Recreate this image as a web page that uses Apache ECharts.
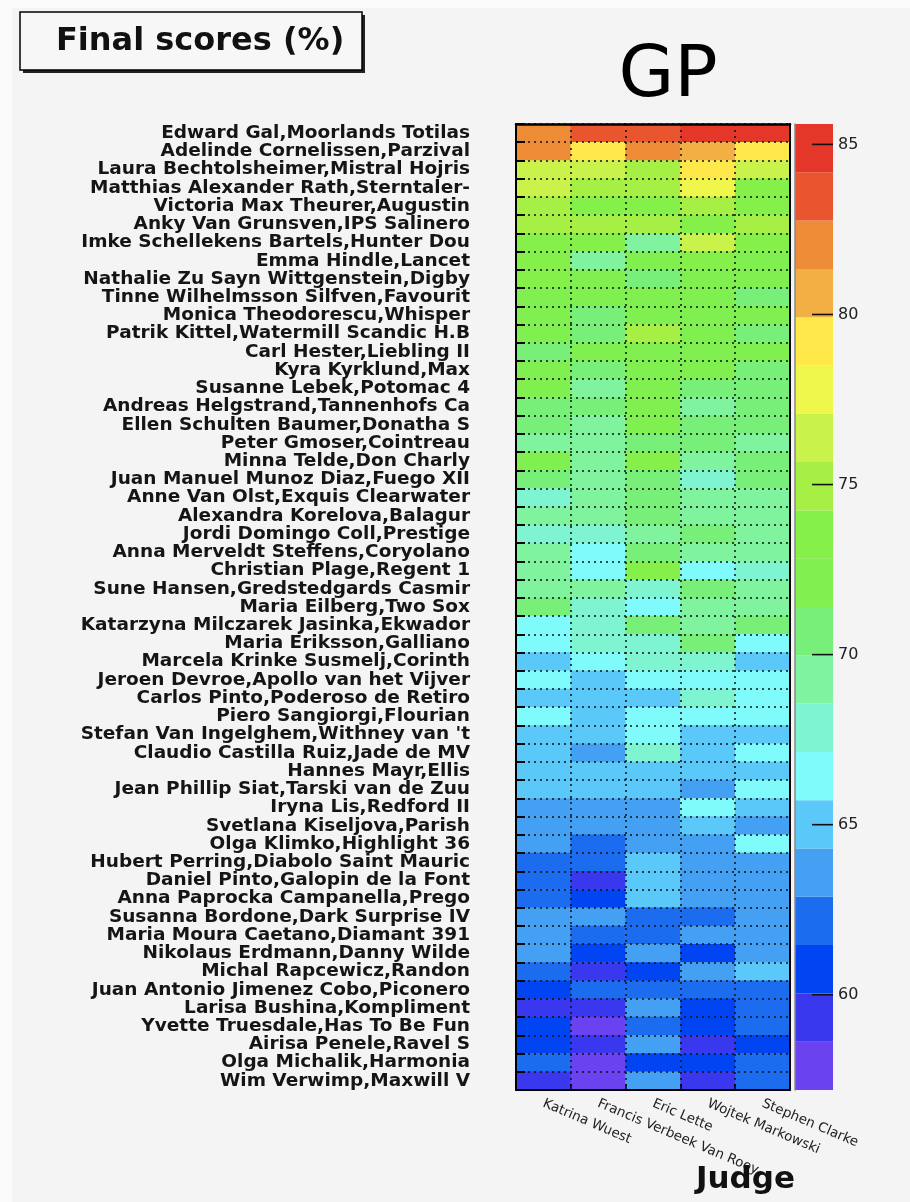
<!DOCTYPE html>
<html><head><meta charset="utf-8">
<script src="https://cdn.jsdelivr.net/npm/echarts@6/dist/echarts.min.js"></script>
<style>html,body{margin:0;padding:0;background:#f4f4f4}#c{width:910px;height:1202px}</style>
</head><body><div id="c"></div>
<script>
// ---------------- data ----------------
const judges = ['Katrina Wuest', 'Francis Verbeek Van Rooy', 'Eric Lette', 'Wojtek Markowski', 'Stephen Clarke'];
const riders = [
  'Edward Gal,Moorlands Totilas', 'Adelinde Cornelissen,Parzival', 'Laura Bechtolsheimer,Mistral Hojris',
  'Matthias Alexander Rath,Sterntaler-', 'Victoria Max Theurer,Augustin', 'Anky Van Grunsven,IPS Salinero',
  'Imke Schellekens Bartels,Hunter Dou', 'Emma Hindle,Lancet', 'Nathalie Zu Sayn Wittgenstein,Digby',
  'Tinne Wilhelmsson Silfven,Favourit', 'Monica Theodorescu,Whisper', 'Patrik Kittel,Watermill Scandic H.B',
  'Carl Hester,Liebling II', 'Kyra Kyrklund,Max', 'Susanne Lebek,Potomac 4', 'Andreas Helgstrand,Tannenhofs Ca',
  'Ellen Schulten Baumer,Donatha S', 'Peter Gmoser,Cointreau', 'Minna Telde,Don Charly',
  'Juan Manuel Munoz Diaz,Fuego XII', 'Anne Van Olst,Exquis Clearwater', 'Alexandra Korelova,Balagur',
  'Jordi Domingo Coll,Prestige', 'Anna Merveldt Steffens,Coryolano', 'Christian Plage,Regent 1',
  'Sune Hansen,Gredstedgards Casmir', 'Maria Eilberg,Two Sox', 'Katarzyna Milczarek Jasinka,Ekwador',
  'Maria Eriksson,Galliano', 'Marcela Krinke Susmelj,Corinth', 'Jeroen Devroe,Apollo van het Vijver',
  'Carlos Pinto,Poderoso de Retiro', 'Piero Sangiorgi,Flourian', "Stefan Van Ingelghem,Withney van 't",
  'Claudio Castilla Ruiz,Jade de MV', 'Hannes Mayr,Ellis', 'Jean Phillip Siat,Tarski van de Zuu',
  'Iryna Lis,Redford II', 'Svetlana Kiseljova,Parish', 'Olga Klimko,Highlight 36',
  'Hubert Perring,Diabolo Saint Mauric', 'Daniel Pinto,Galopin de la Font', 'Anna Paprocka Campanella,Prego',
  'Susanna Bordone,Dark Surprise IV', 'Maria Moura Caetano,Diamant 391', 'Nikolaus Erdmann,Danny Wilde',
  'Michal Rapcewicz,Randon', 'Juan Antonio Jimenez Cobo,Piconero', 'Larisa Bushina,Kompliment',
  'Yvette Truesdale,Has To Be Fun', 'Airisa Penele,Ravel S', 'Olga Michalik,Harmonia', 'Wim Verwimp,Maxwill V'
];
const scoresWuest = [82.2,82.0,76.4,75.8,75.0,74.6,73.5,73.0,73.2,72.2,72.0,71.8,70.5,71.6,72.0,70.8,70.6,69.5,72.2,70.5,68.2,69.4,68.0,69.3,68.8,69.0,70.4,66.8,66.6,65.0,66.5,65.1,66.4,65.3,65.0,64.8,65.0,63.8,63.5,63.6,62.0,62.2,62.3,63.4,63.6,63.3,62.0,60.9,59.5,60.7,60.6,62.1,59.4];
const scoresVerbeek = [83.5,79.3,76.2,75.0,73.6,74.9,73.0,69.6,72.0,72.3,71.0,70.9,72.0,70.6,69.4,70.6,69.4,69.4,69.3,69.6,69.3,69.2,67.9,66.5,66.4,69.2,68.2,67.8,68.0,66.8,65.0,64.8,65.2,64.9,63.8,65.0,64.7,63.6,63.7,62.2,62.4,59.5,60.8,63.5,62.4,61.0,59.6,62.2,59.8,58.0,59.3,57.8,57.6];
const scoresLette = [83.6,82.1,75.0,74.8,73.8,74.7,69.5,72.5,71.0,72.5,72.1,74.5,72.3,72.2,72.0,71.7,72.8,70.8,73.5,71.2,70.9,70.2,69.5,70.5,73.0,68.0,66.7,70.5,67.9,68.1,66.4,65.0,66.3,66.5,67.6,64.9,64.8,63.9,63.4,63.5,64.8,65.0,64.6,62.1,62.2,63.6,60.8,62.4,63.8,62.0,63.5,60.8,63.6];
const scoresMarkowski = [85.0,80.8,79.0,78.0,74.8,73.2,76.0,73.4,72.4,72.0,72.4,72.1,71.9,71.7,70.6,69.6,70.7,71.0,69.8,68.0,69.5,69.8,71.0,69.4,66.6,70.4,68.6,69.3,70.2,67.8,66.6,67.9,66.5,65.2,65.0,65.1,63.6,66.5,64.6,63.7,63.5,63.4,63.3,62.0,63.5,60.9,63.7,62.1,60.8,60.9,59.4,60.7,59.3];
const scoresClarke = [85.2,79.4,76.3,73.5,73.4,74.5,73.2,72.6,72.2,70.8,72.0,70.6,72.0,70.8,70.4,70.5,70.4,69.5,70.2,71.0,69.6,69.4,69.3,69.2,68.2,69.0,69.0,70.3,66.5,65.2,66.5,66.6,66.8,65.0,66.3,64.7,66.4,64.6,63.8,66.3,63.6,63.6,63.5,63.7,63.4,63.4,64.6,62.3,62.0,62.2,61.0,62.3,62.0];
const colorbarTicks = [60, 65, 70, 75, 80, 85];
const bandColors = ['#6a42f0','#3a38ee','#0044f2','#1c6cf0','#44a0f2','#5ac8f8','#7ffbfb','#7ef4d0','#80f39e','#78ef78',
                    '#80f050','#85f04a','#a6ef44','#c9f24a','#f0f74c','#fee84a','#f2b044','#ee8b37','#e8552f','#e5362a'];
const zMin = 57.2, zMax = 85.6;

// ---------------- build ----------------
const allScores = [scoresWuest, scoresVerbeek, scoresLette, scoresMarkowski, scoresClarke];
const heatData = [];
allScores.forEach((arr, j) => arr.forEach((v, i) => heatData.push([j, i, v])));
const nb = bandColors.length, bw = (zMax - zMin) / nb;
const pieces = bandColors.map((c, k) => ({ gte: zMin + k * bw, lt: zMin + (k + 1) * bw, color: c }));
pieces[0] = { gte: zMin - 5, lt: zMin + bw, color: bandColors[0] };
pieces[nb - 1] = { gte: zMin + (nb - 1) * bw, lte: zMax + 5, color: bandColors[nb - 1] };
const bandData = bandColors.map((c, k) => [0.5, zMin + (k + 0.5) * bw, k]);
const tickData = colorbarTicks.map(v => [1, v]);

const dotted = { color: '#111', type: [2, 4], width: 1.5 };
const labelFont = 'DejaVu Sans';

const chart = echarts.init(document.getElementById('c'), null, { renderer: 'canvas' });
chart.setOption({
  backgroundColor: '#f4f4f4',
  animation: false,
  grid: [
    { left: 516, top: 124, width: 274, height: 966 },
    { left: 795, top: 124, width: 38, height: 966 }
  ],
  xAxis: [
    { type: 'category', data: judges, gridIndex: 0, position: 'bottom', z: 5,
      axisLine: { lineStyle: { color: '#000', width: 2 } },
      axisTick: { show: true, inside: true, length: 6, lineStyle: { color: '#000', width: 1.5 } },
      axisLabel: { rotate: -23, fontSize: 13.5, color: '#222', margin: 13, fontFamily: labelFont, interval: 0 },
      splitLine: { show: true, lineStyle: dotted } },
    { type: 'category', data: judges, gridIndex: 0, position: 'top', z: 5,
      axisLine: { lineStyle: { color: '#000', width: 2.5 } }, axisTick: { show: false }, axisLabel: { show: false } },
    { type: 'value', gridIndex: 1, min: 0, max: 1, show: false }
  ],
  yAxis: [
    { type: 'category', data: riders, inverse: true, gridIndex: 0, z: 5,
      axisLine: { lineStyle: { color: '#000', width: 2 } },
      axisTick: { show: true, inside: true, length: 9, lineStyle: { color: '#000', width: 2 } },
      axisLabel: { fontSize: 18.5, fontWeight: 'bold', color: '#151515', margin: 46, fontFamily: labelFont, interval: 0 },
      splitLine: { show: true, lineStyle: dotted } },
    { type: 'category', data: riders, inverse: true, gridIndex: 0, position: 'right', z: 5,
      axisLine: { lineStyle: { color: '#000', width: 2 } }, axisTick: { show: false }, axisLabel: { show: false } },
    { type: 'value', gridIndex: 1, position: 'right', min: zMin, max: zMax, z: 5,
      axisLine: { show: true, lineStyle: { color: '#888', width: 1.5 } },
      axisTick: { show: false },
      axisLabel: { customValues: colorbarTicks, fontSize: 16, color: '#222', margin: 5, fontFamily: labelFont },
      splitLine: { show: false } }
  ],
  visualMap: { type: 'piecewise', show: false, seriesIndex: 0, dimension: 2, pieces: pieces },
  series: [
    { type: 'heatmap', xAxisIndex: 0, yAxisIndex: 0, data: heatData, z: 2, itemStyle: { borderWidth: 0 } },
    { type: 'custom', xAxisIndex: 2, yAxisIndex: 2, data: bandData, z: 1,
      renderItem: function (params, api) {
        const k = api.value(2);
        const p0 = api.coord([0, zMin + k * bw]);
        const p1 = api.coord([1, zMin + (k + 1) * bw]);
        return { type: 'rect', shape: { x: p0[0], y: p1[1], width: p1[0] - p0[0], height: p0[1] - p1[1] },
                 style: { fill: bandColors[k] } };
      } },
    { type: 'custom', xAxisIndex: 2, yAxisIndex: 2, data: tickData, z: 3,
      renderItem: function (params, api) {
        const p = api.coord([api.value(0), api.value(1)]);
        return { type: 'line', shape: { x1: p[0] - 21, y1: p[1], x2: p[0], y2: p[1] },
                 style: { stroke: '#111', lineWidth: 1.6 } };
      } }
  ],
  graphic: [
    { type: 'rect', left: 0, top: 0, shape: { width: 910, height: 8 }, style: { fill: '#fbfbfb' }, z: 0 },
    { type: 'rect', left: 0, top: 0, shape: { width: 12, height: 1202 }, style: { fill: '#fbfbfb' }, z: 0 },
    { type: 'rect', x: 23, y: 15, shape: { width: 342, height: 58 }, style: { fill: '#222' }, z: 10 },
    { type: 'rect', x: 20, y: 12, shape: { width: 342, height: 58 }, style: { fill: '#f7f7f7', stroke: '#000', lineWidth: 1.5 }, z: 11 },
    { type: 'text', x: 56, y: 42, style: { text: 'Final scores (%)', font: 'bold 32px "DejaVu Sans"', fill: '#111', textVerticalAlign: 'middle' }, z: 12 },
    { type: 'text', x: 668, y: 77, style: { text: 'GP', font: '72px "DejaVu Sans"', fill: '#000', textAlign: 'center', textVerticalAlign: 'middle' }, z: 12 },
    { type: 'text', x: 795, y: 1180, style: { text: 'Judge', font: 'bold 31px "DejaVu Sans"', fill: '#111', textAlign: 'right', textVerticalAlign: 'middle' }, z: 12 }
  ]
});
</script></body></html>
